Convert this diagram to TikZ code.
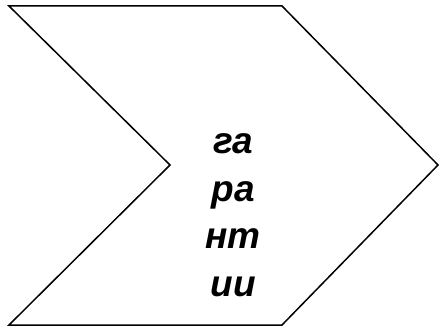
\documentclass[tikz,border=0pt]{standalone}
\usepackage{fontspec}
\setmainfont{Liberation Sans}
\usetikzlibrary{positioning, calc}

\begin{document}
\begin{tikzpicture}[
    x=1pt, y=-1pt,
    chevron/.style={draw=black, line width=1.5pt, line join=miter, fill=white},
    chevtext/.style={font=\fontsize{37}{47.5}\selectfont\bfseries\itshape, align=center,
                     inner sep=0pt}
]
    \useasboundingbox (0,0) rectangle (439,329);

    % Corners of the chevron
    \coordinate (tl) at (9,6);
    \coordinate (tr) at (282,6);
    \coordinate (tip) at (438,165);
    \coordinate (br) at (282,325);
    \coordinate (bl) at (9,325);
    \coordinate (notch) at (170,165);

    % Outline
    \draw[chevron] (tl) -- (tr) -- (tip) -- (br) -- (bl) -- (notch) -- cycle;

    % Label
    \node[chevtext] (lbl) at (233,215) {га\\ра\\нт\\ии};

\end{tikzpicture}
\end{document}
